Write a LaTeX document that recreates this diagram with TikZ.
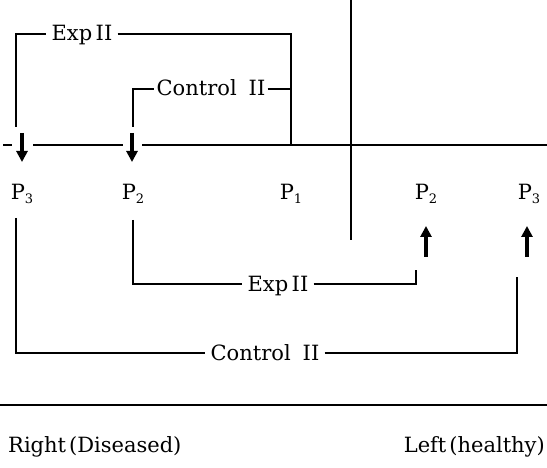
\documentclass[tikz,border=0pt]{standalone}
\usepackage{fontspec}
\setmainfont{DejaVu Serif}
\usetikzlibrary{arrows.meta}
\newcommand{\Psub}[1]{P\raisebox{-4pt}{\fontsize{13}{13}\selectfont #1}}
\begin{document}
\begin{tikzpicture}[x=1pt,y=-1pt,
  ln/.style={line width=1.7pt},
  arr/.style={line width=3.4pt,-{Triangle[length=11pt,width=11pt]}},
  lbl/.style={font=\fontsize{21}{21}\selectfont, inner xsep=5pt, inner ysep=0pt, anchor=base},
  pl/.style={font=\fontsize{21}{21}\selectfont, inner sep=0pt, anchor=base}]
\useasboundingbox (0,0) rectangle (547,468);
% divider
\coordinate (divT) at (351,0);
\coordinate (divB) at (351,240);
\draw[ln] (divT) -- (divB);
% main horizontal line
\coordinate (m0) at (3,145);
\coordinate (m1) at (12,145);
\coordinate (m2) at (33,145);
\coordinate (m3) at (123,145);
\coordinate (m4) at (142,145);
\coordinate (m5) at (547,145);
\draw[ln] (m0) -- (m1);
\draw[ln] (m2) -- (m3);
\draw[ln] (m4) -- (m5);
\coordinate (j1) at (291,145);
% top Exp II
\coordinate (a1) at (16,127);
\coordinate (a2) at (16,34);
\coordinate (a3) at (291,34);
\node[lbl] (tE) at (82,41) {Exp\,II};
\draw[ln] (a1) -- (a2) -- (tE.west |- a2);
\draw[ln] (tE.east |- a2) -- (a3) -- (j1);
% top Control II
\coordinate (b1) at (133,127);
\coordinate (b2) at (133,89);
\coordinate (b3) at (291,89);
\node[lbl, inner xsep=2pt] (tC) at (211,96) {Control\hspace{12pt}II};
\draw[ln] (b1) -- (b2) -- (tC.west |- b2);
\draw[ln] (tC.east |- b2) -- (b3);
% down arrows
\coordinate (d1s) at (22,133);
\coordinate (d1e) at (22,162);
\coordinate (d2s) at (132,133);
\coordinate (d2e) at (132,162);
\draw[arr] (d1s) -- (d1e);
\draw[arr] (d2s) -- (d2e);
% P labels
\node[pl] (pL3) at (22,200) {\Psub{3}};
\node[pl] (pL2) at (133,200) {\Psub{2}};
\node[pl] (pL1) at (291,200) {\Psub{1}};
\node[pl] (pR2) at (426,200) {\Psub{2}};
\node[pl] (pR3) at (529,200) {\Psub{3}};
% up arrows
\coordinate (u1s) at (426,257);
\coordinate (u1e) at (426,226);
\coordinate (u2s) at (527,257);
\coordinate (u2e) at (527,226);
\draw[arr] (u1s) -- (u1e);
\draw[arr] (u2s) -- (u2e);
% lower Exp II
\coordinate (c1) at (133,220);
\coordinate (c2) at (133,284);
\coordinate (c3) at (416,284);
\coordinate (c4) at (416,270);
\node[lbl] (bE) at (278,291) {Exp\,II};
\draw[ln] (c1) -- (c2) -- (bE.west |- c2);
\draw[ln] (bE.east |- c2) -- (c3) -- (c4);
% lower Control II
\coordinate (e1) at (16,218);
\coordinate (e2) at (16,353);
\coordinate (e3) at (517,353);
\coordinate (e4) at (517,277);
\node[lbl] (bC) at (265,360) {Control\hspace{12pt}II};
\draw[ln] (e1) -- (e2) -- (bC.west |- e2);
\draw[ln] (bC.east |- e2) -- (e3) -- (e4);
% bottom line and sides
\coordinate (h1) at (0,405);
\coordinate (h2) at (547,405);
\draw[ln] (h1) -- (h2);
\node[pl, anchor=base west] (rt) at (8,452) {Right\hspace{3pt}(Diseased)};
\node[pl, anchor=base east] (lt) at (545,452) {Left\hspace{3pt}(healthy)};
\end{tikzpicture}
\end{document}
